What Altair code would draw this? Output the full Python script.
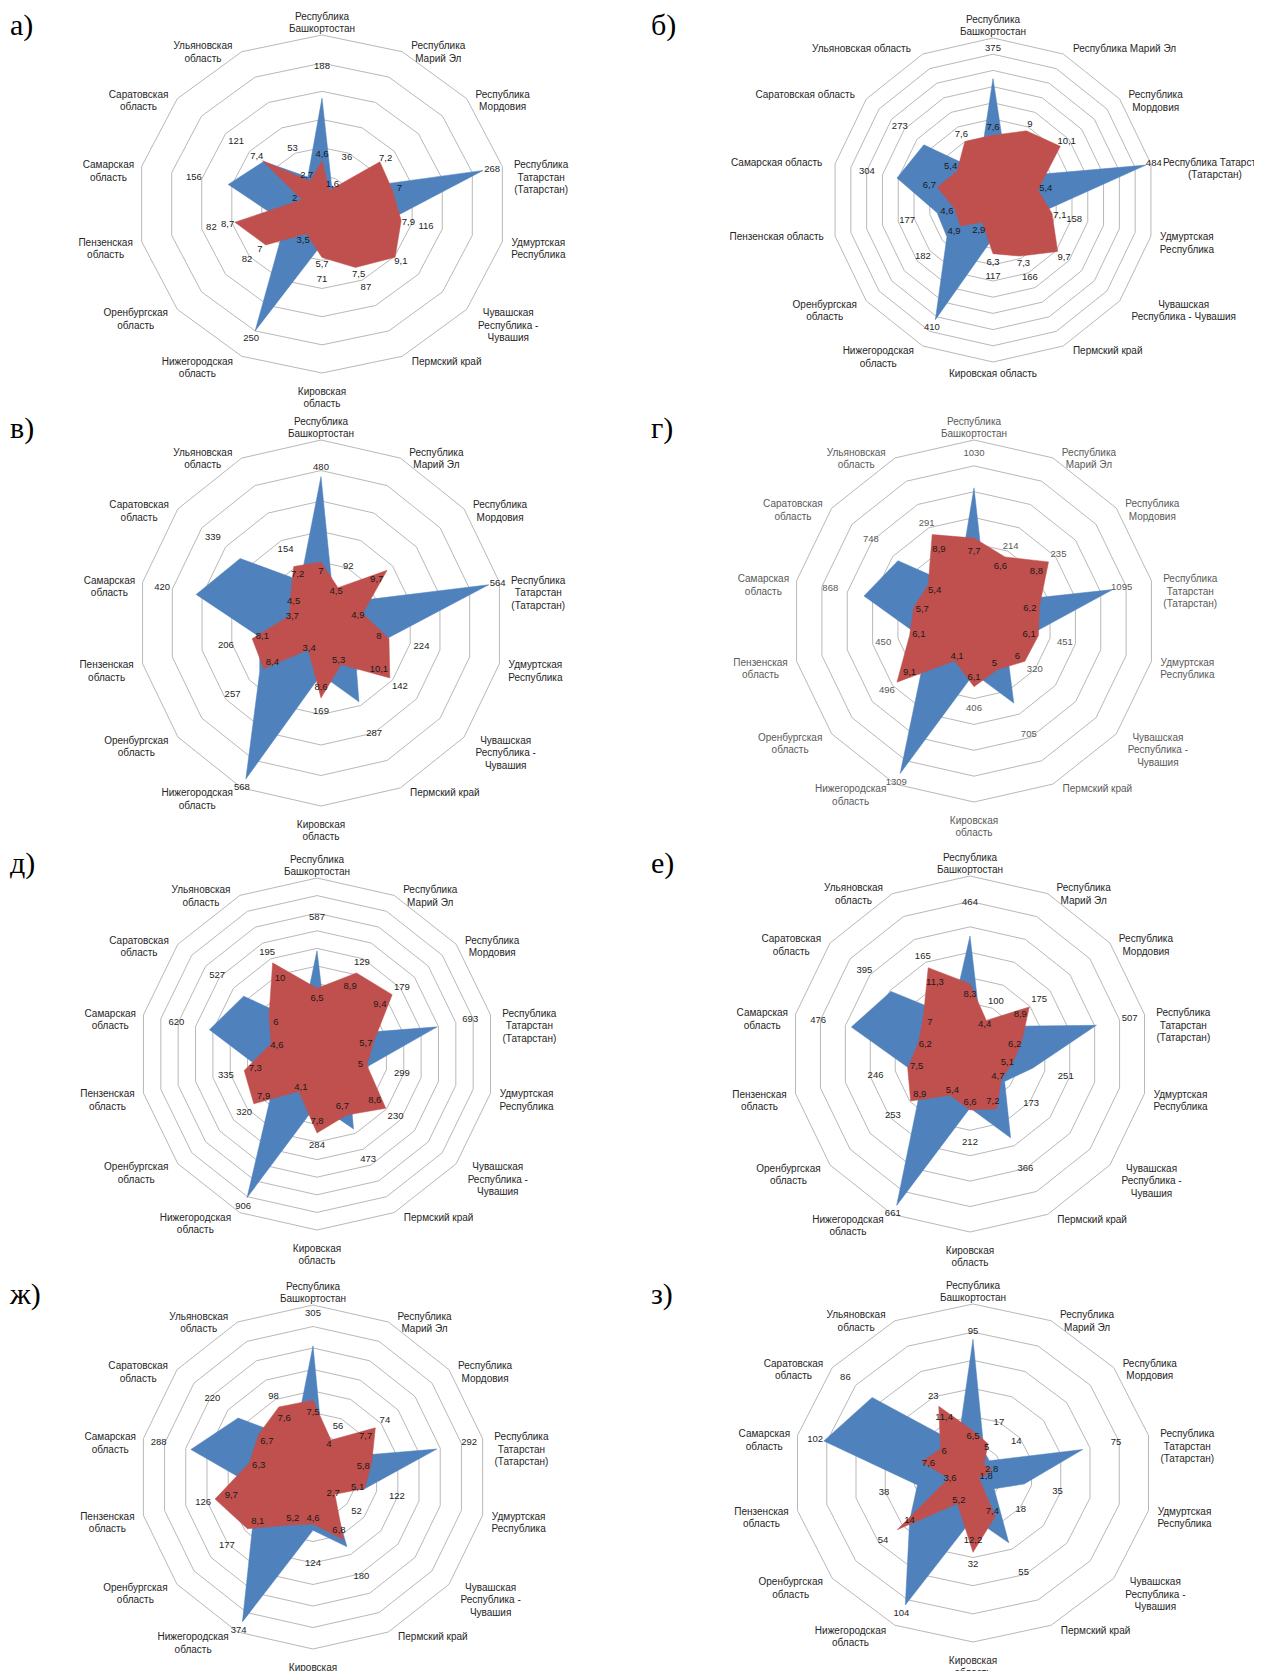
import altair as alt
import pandas as pd

# ---------------- data ----------------
LABELS_STD = ["Республика\nБашкортостан", "Республика\nМарий Эл", "Республика\nМордовия",
              "Республика\nТатарстан\n(Татарстан)", "Удмуртская\nРеспублика",
              "Чувашская\nРеспублика -\nЧувашия", "Пермский край", "Кировская\nобласть",
              "Нижегородская\nобласть", "Оренбургская\nобласть", "Пензенская\nобласть",
              "Самарская\nобласть", "Саратовская\nобласть", "Ульяновская\nобласть"]
LABELS_B = ["Республика\nБашкортостан", "Республика Марий Эл", "Республика\nМордовия",
            "Республика Татарстан\n(Татарстан)", "Удмуртская\nРеспублика",
            "Чувашская\nРеспублика - Чувашия", "Пермский край", "Кировская область",
            "Нижегородская\nобласть", "Оренбургская\nобласть", "Пензенская область",
            "Самарская  область", "Саратовская область", "Ульяновская область"]

blue_a = [188, 36, 40, 268, 116, 60, 87, 71, 250, 82, 82, 156, 121, 53]
red_a = [4.6, 1.6, 7.2, 7.0, 7.9, 9.1, 7.5, 5.7, 3.5, 7.0, 8.7, 2.0, 7.4, 2.7]

blue_b = [375, 100, 120, 484, 158, 130, 166, 117, 410, 182, 177, 304, 273, 100]
red_b = [7.6, 9.0, 10.1, 5.4, 7.1, 9.7, 7.3, 6.3, 2.9, 4.9, 4.6, 6.7, 5.4, 7.6]

blue_v = [480, 92, 110, 564, 224, 142, 287, 169, 568, 257, 206, 420, 339, 154]
red_v = [7.0, 4.5, 9.7, 4.9, 8.0, 10.1, 5.3, 8.6, 3.4, 8.4, 8.1, 3.7, 4.5, 7.2]

blue_g = [1030, 214, 235, 1095, 451, 320, 705, 406, 1309, 496, 450, 868, 748, 291]
red_g = [7.7, 6.6, 8.8, 6.2, 6.1, 6.0, 5.0, 6.1, 4.1, 9.1, 6.1, 5.7, 5.4, 8.9]

blue_d = [587, 129, 179, 693, 299, 230, 473, 284, 906, 320, 335, 620, 527, 195]
red_d = [6.5, 8.9, 9.4, 5.7, 5.0, 8.6, 6.7, 7.8, 4.1, 7.9, 7.3, 4.6, 6.0, 10.0]

blue_e = [464, 100, 175, 507, 251, 173, 366, 212, 661, 253, 246, 476, 395, 165]
red_e = [8.3, 4.4, 8.9, 6.2, 5.1, 4.7, 7.2, 6.6, 5.4, 8.9, 7.5, 6.2, 7.0, 11.3]

blue_zh = [305, 56, 74, 292, 122, 52, 180, 124, 374, 177, 126, 288, 220, 98]
red_zh = [7.5, 4.0, 7.7, 5.8, 5.1, 2.7, 6.8, 4.6, 5.2, 8.1, 9.7, 6.3, 6.7, 7.6]

blue_z = [95, 17, 14, 75, 35, 18, 55, 32, 104, 54, 38, 102, 86, 23]
red_z = [6.5, 5.0, 2.0, 2.8, 1.8, 1.0, 7.4, 12.2, 5.2, 14.0, 3.6, 7.6, 6.0, 11.4]

# labels that are not visible in the original (covered)
hidden_blue = {"а": [2, 5], "б": [1, 2, 5, 13], "в": [2]}
hidden_red = {"з": [2, 5]}

# ---------------- layout / style ----------------
BLUE = "#4F81BD"
RED = "#C0504D"
GRID = "#B8B8B8"
COLS = [(8, 640), (640, 1254)]
ROWS = [(8, 407), (407, 843), (843, 1271), (1271, 1671)]
LETTER_BASE = [27, 31, 30, 33]

LAYOUT = {
    "а": dict(cx=322, cy=204, rx=185, ry=169, bmax=300, nr=6, rmax=18.0, ra=1.0, rb=0.04),
    "б": dict(cx=993, cy=200, rx=162, ry=162, bmax=500, nr=10, rmax=19.0, ra=1.0, rb=0.05),
    "в": dict(cx=321, cy=623, rx=183, ry=183, bmax=600, nr=6, rmax=21.0, ra=0.8, rb=0.02),
    "г": dict(cx=974, cy=621, rx=182, ry=181, bmax=1400, nr=7, rmax=16.8, ra=0.8, rb=0.02),
    "д": dict(cx=317, cy=1054, rx=178, ry=176, bmax=1000, nr=10, rmax=17.4, ra=0.8, rb=0.02),
    "е": dict(cx=970, cy=1054, rx=179, ry=178, bmax=700, nr=7, rmax=21.0, ra=0.8, rb=0.02),
    "ж": dict(cx=313, cy=1477, rx=174, ry=172, bmax=400, nr=8, rmax=16.8, ra=0.8, rb=0.02),
    "з": dict(cx=973, cy=1473, rx=180, ry=169, bmax=120, nr=6, rmax=26.0, ra=0.8, rb=0.02),
}


def fmt(v):
    return f"{v:g}".replace(".", ",")


def panel(letter, blue, red, labels, row, col):
    P = LAYOUT[letter]
    left, right = COLS[col]
    top, bottom = ROWS[row]
    W, H = right - left, bottom - top
    xs = alt.Scale(domain=[left - P["cx"], right - P["cx"]], nice=False, zero=False)
    ys = alt.Scale(domain=[P["cy"] - bottom, P["cy"] - top], nice=False, zero=False)
    RX, RY = P["rx"], P["ry"]
    hb = hidden_blue.get(letter, [])
    hr = hidden_red.get(letter, [])

    df = pd.DataFrame({"i": list(range(14)), "blue": blue, "red": red, "lab": labels})
    df["nl"] = df["lab"].str.count("\n") + 1
    df["w"] = df["lab"].map(lambda s: max(len(t) for t in s.split("\n")))
    df["bt"] = ["" if k in hb else fmt(v) for k, v in enumerate(blue)]
    df["rt"] = ["" if k in hr else fmt(v) for k, v in enumerate(red)]

    base = alt.Chart(df).transform_calculate(
        th="datum.i * 2 * PI / 14"
    ).transform_calculate(
        s="sin(datum.th)", c="cos(datum.th)",
        ub=f"datum.blue / {P['bmax']}", ur=f"datum.red / {P['rmax']}"
    ).transform_calculate(
        url=f"max(0.05, {P['ra']} * datum.ur + {P['rb']})",
        side="datum.s > 0.3 ? 1 : (datum.s < -0.3 ? -1 : 0)",
    ).transform_calculate(
        xb=f"datum.ub * {RX} * datum.s", yb=f"datum.ub * {RY} * datum.c",
        xr=f"datum.ur * {RX} * datum.s", yr=f"datum.ur * {RY} * datum.c",
        ubl="datum.ub > 0.77 ? datum.ub + 0.05 : max(datum.ub + 0.19, datum.url + 0.09, datum.ur + 0.07)",
    ).transform_calculate(
        xbl=f"datum.ubl * {RX} * datum.s", ybl=f"datum.ubl * {RY} * datum.c",
        xrl=f"datum.url * {RX} * datum.s", yrl=f"datum.url * {RY} * datum.c",
        lx=f"{RX} * datum.s + datum.side * (8 + datum.w * 5.6 / 2)",
        ly=f"datum.side == 0 ? (datum.c > 0 ? 1 : -1) * ({RY} + 6 + datum.nl * 12.5 / 2) : ({RY} + 6) * datum.c",
    )

    rings = pd.DataFrame([(k, j) for k in range(1, P["nr"] + 1) for j in range(14)], columns=["k", "j"])
    ring_layer = alt.Chart(rings).transform_calculate(
        u=f"datum.k / {P['nr']}", th="datum.j * 2 * PI / 14"
    ).transform_calculate(
        x=f"datum.u * {RX} * sin(datum.th)", y=f"datum.u * {RY} * cos(datum.th)"
    ).mark_line(interpolate="linear-closed", stroke=GRID, strokeWidth=1).encode(
        x=alt.X("x:Q", scale=xs, axis=None), y=alt.Y("y:Q", scale=ys, axis=None),
        detail="k:N", order="j:Q")

    blue_poly = base.mark_line(interpolate="linear-closed", fill=BLUE, stroke=BLUE,
                               strokeWidth=0.5, fillOpacity=1).encode(
        x=alt.X("xb:Q", scale=xs, axis=None), y=alt.Y("yb:Q", scale=ys, axis=None), order="i:Q")
    red_poly = base.mark_line(interpolate="linear-closed", fill=RED, stroke=RED,
                              strokeWidth=0.5, fillOpacity=1).encode(
        x=alt.X("xr:Q", scale=xs, axis=None), y=alt.Y("yr:Q", scale=ys, axis=None), order="i:Q")

    tcol = "#5a5a5a" if letter == "г" else "#262626"
    blue_txt = base.mark_text(fontSize=9.5, font="Liberation Sans", color=tcol, clip=True).encode(
        x=alt.X("xbl:Q", scale=xs, axis=None), y=alt.Y("ybl:Q", scale=ys, axis=None), text="bt:N")
    red_txt = base.mark_text(fontSize=9.5, font="Liberation Sans", color="#1a1a1a", clip=True).encode(
        x=alt.X("xrl:Q", scale=xs, axis=None), y=alt.Y("yrl:Q", scale=ys, axis=None), text="rt:N")
    cat_txt = base.mark_text(fontSize=10, font="Liberation Sans", color=tcol, lineBreak="\n",
                             lineHeight=12.5, align="center", baseline="middle", clip=True).encode(
        x=alt.X("lx:Q", scale=xs, axis=None), y=alt.Y("ly:Q", scale=ys, axis=None), text="lab:N")

    lx_pix = 2 if col == 0 else 11
    letter_txt = alt.Chart(pd.DataFrame({"t": [letter + ")"]})).mark_text(
        font="Liberation Serif", fontSize=30, align="left", baseline="alphabetic", color="#000000"
    ).encode(x=alt.value(lx_pix), y=alt.value(LETTER_BASE[row]), text="t:N")

    return alt.layer(ring_layer, blue_poly, red_poly, blue_txt, red_txt, cat_txt, letter_txt).properties(
        width=W, height=H, view=alt.ViewBackground(stroke="transparent", strokeWidth=0))


panels = [
    panel("а", blue_a, red_a, LABELS_STD, 0, 0),
    panel("б", blue_b, red_b, LABELS_B, 0, 1),
    panel("в", blue_v, red_v, LABELS_STD, 1, 0),
    panel("г", blue_g, red_g, LABELS_STD, 1, 1),
    panel("д", blue_d, red_d, LABELS_STD, 2, 0),
    panel("е", blue_e, red_e, LABELS_STD, 2, 1),
    panel("ж", blue_zh, red_zh, LABELS_STD, 3, 0),
    panel("з", blue_z, red_z, LABELS_STD, 3, 1),
]

chart = alt.concat(*panels, columns=2, spacing=0, bounds="flush").properties(padding=0).configure_view(
    stroke="transparent", strokeWidth=0).configure(background="white")

chart.save("out.html", embed_options={"renderer": "svg", "actions": False})
